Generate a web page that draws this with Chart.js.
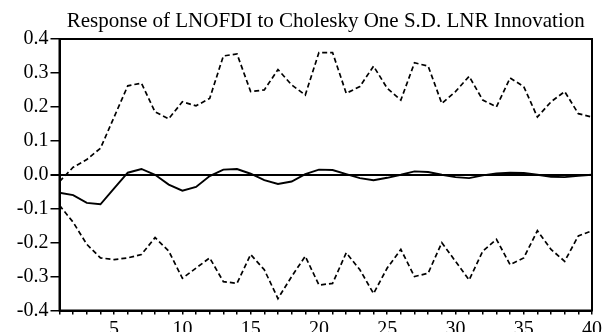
<!DOCTYPE html>
<html>
<head>
<meta charset="utf-8">
<script src="https://cdn.jsdelivr.net/npm/chart.js@4"></script>
<style>
  html, body { margin: 0; padding: 0; background: #fff; }
  #wrap { width: 606px; height: 332px; }
</style>
</head>
<body>
<div id="wrap"><canvas id="irf" width="606" height="332"></canvas></div>
<script>
const periods = Array.from({ length: 40 }, (_, i) => i + 1);

const response = [
  -0.053, -0.060, -0.083, -0.087, -0.040, 0.006, 0.017, 0.000, -0.029, -0.047,
  -0.036, -0.004, 0.015, 0.017, 0.003, -0.016, -0.027, -0.020, 0.002, 0.015,
  0.014, 0.002, -0.010, -0.016, -0.009, 0.000, 0.010, 0.008, 0.000, -0.007,
  -0.010, -0.002, 0.004, 0.006, 0.005, 0.000, -0.006, -0.007, -0.003, 0.000
];

const upperBand = [
  -0.020, 0.022, 0.045, 0.078, 0.170, 0.262, 0.270, 0.185, 0.165, 0.215,
  0.203, 0.225, 0.350, 0.356, 0.245, 0.250, 0.310, 0.265, 0.235, 0.360,
  0.360, 0.240, 0.260, 0.320, 0.255, 0.220, 0.330, 0.320, 0.210, 0.245,
  0.290, 0.220, 0.200, 0.285, 0.260, 0.170, 0.215, 0.245, 0.180, 0.170
];

const lowerBand = [
  -0.090, -0.140, -0.205, -0.245, -0.250, -0.245, -0.235, -0.185, -0.225, -0.305,
  -0.275, -0.245, -0.315, -0.320, -0.235, -0.280, -0.365, -0.300, -0.240, -0.325,
  -0.320, -0.230, -0.280, -0.350, -0.275, -0.220, -0.300, -0.290, -0.200, -0.255,
  -0.310, -0.225, -0.190, -0.265, -0.245, -0.165, -0.220, -0.255, -0.180, -0.165
];

const yTicks = [-0.4, -0.3, -0.2, -0.1, 0.0, 0.1, 0.2, 0.3, 0.4];
const xLabelEvery = 5;
const title = "Response of LNOFDI to Cholesky One S.D. LNR Innovation";

const serif = "'Liberation Serif', 'DejaVu Serif', serif";

// frame on top/right plus the title above the plot
const framePlugin = {
  id: "frame",
  afterDraw(chart) {
    const { ctx, chartArea: a } = chart;
    ctx.save();
    ctx.strokeStyle = "#000";
    ctx.lineWidth = 2;
    ctx.strokeRect(a.left, a.top, a.right - a.left, a.bottom - a.top);
    ctx.fillStyle = "#000";
    ctx.font = "21px " + serif;
    ctx.textAlign = "center";
    ctx.textBaseline = "alphabetic";
    ctx.fillText(title, (a.left + a.right) / 2, 27);
    ctx.restore();
  }
};

const lineSet = (data, dashed) => ({
  data: data.map((v, i) => ({ x: periods[i], y: v })),
  borderColor: "#000",
  borderWidth: dashed ? 1.7 : 1.9,
  borderDash: dashed ? [5, 3] : [],
  pointRadius: 0,
  tension: 0,
  fill: false
});

new Chart(document.getElementById("irf"), {
  type: "line",
  data: {
    datasets: [
      lineSet(response, false),
      lineSet(upperBand, true),
      lineSet(lowerBand, true)
    ]
  },
  plugins: [framePlugin],
  options: {
    responsive: false,
    animation: false,
    layout: { padding: { top: 39, right: 14, left: 0, bottom: 0 } },
    plugins: { legend: { display: false }, tooltip: { enabled: false }, title: { display: false } },
    scales: {
      x: {
        type: "linear",
        min: 1,
        max: 40,
        afterFit: s => { s.height = 21.5; },
        afterBuildTicks: s => { s.ticks = periods.map(v => ({ value: v })); },
        border: { display: true, color: "#000", width: 2 },
        grid: { drawOnChartArea: false, drawTicks: true, tickLength: 4, color: "#000", lineWidth: 1.5 },
        ticks: {
          autoSkip: false,
          maxRotation: 0,
          padding: 3,
          color: "#000",
          font: { family: serif, size: 20 },
          callback: v => (v % xLabelEvery === 0 ? String(v) : "")
        }
      },
      y: {
        min: -0.4,
        max: 0.4,
        afterFit: s => { s.width = 59.5; },
        afterBuildTicks: s => { s.ticks = yTicks.map(v => ({ value: v })); },
        border: { display: true, color: "#000", width: 2 },
        grid: {
          drawOnChartArea: true,
          drawTicks: true,
          tickLength: 9,
          color: c => (c.tick && Math.abs(c.tick.value) < 1e-9 ? "#000" : "rgba(0,0,0,0)"),
          tickColor: "#000",
          lineWidth: c => (c.tick && Math.abs(c.tick.value) < 1e-9 ? 2 : 1.5)
        },
        ticks: {
          padding: 2,
          color: "#000",
          font: { family: serif, size: 20 },
          callback: v => v.toFixed(1)
        }
      }
    }
  }
});
</script>
</body>
</html>
